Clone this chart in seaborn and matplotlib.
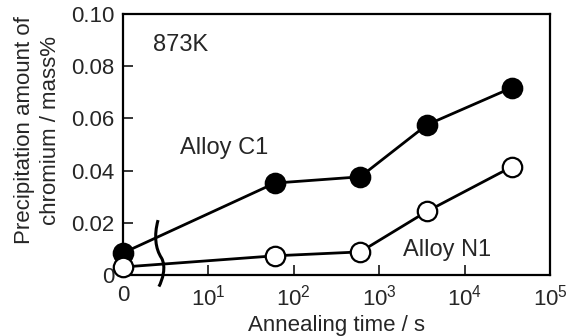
import numpy as np
import pandas as pd
import matplotlib
matplotlib.use("Agg")
import matplotlib.pyplot as plt
from matplotlib.path import Path
from matplotlib.patches import PathPatch
import seaborn as sns

# Data
times_s = [0, 60, 600, 3600, 36000]
alloy_c1 = [0.0084, 0.0352, 0.0376, 0.0575, 0.0718]
alloy_n1 = [0.0030, 0.0073, 0.0088, 0.0243, 0.0415]
x_tick_labels = ["0", r"$\mathregular{10^{1}}$", r"$\mathregular{10^{2}}$",
                 r"$\mathregular{10^{3}}$", r"$\mathregular{10^{4}}$", r"$\mathregular{10^{5}}$"]
y_ticks = [0, 0.02, 0.04, 0.06, 0.08, 0.10]
y_tick_labels = ["0", "0.02", "0.04", "0.06", "0.08", "0.10"]

sns.set_style("ticks")
plt.rcParams['font.family'] = ['Liberation Sans', 'DejaVu Sans']
plt.rcParams['mathtext.fontset'] = 'custom'
plt.rcParams['mathtext.rm'] = 'Liberation Sans'

def pos(t):
    return 0.0 if t == 0 else np.log10(t)

df = pd.DataFrame({
    "pos": [pos(t) for t in times_s] * 2,
    "val": alloy_c1 + alloy_n1,
    "alloy": ["C1"] * len(times_s) + ["N1"] * len(times_s),
})

fig = plt.figure(figsize=(5.67, 3.36), dpi=100)
ax = fig.add_axes([0.217, 0.182, 0.753, 0.776])

for name, face in [("C1", "black"), ("N1", "white")]:
    sub = df[df.alloy == name]
    sns.lineplot(data=sub, x="pos", y="val", ax=ax, color="black", linewidth=2.0,
                 marker="o", markersize=14, markerfacecolor=face,
                 markeredgecolor="black", markeredgewidth=1.6, clip_on=False, zorder=3)

ax.set_xlim(0, 5)
ax.set_ylim(0, 0.10)
ax.set_xticks(range(6))
ax.set_xticklabels(x_tick_labels, fontsize=16)
ax.set_yticks(y_ticks)
ax.set_yticklabels(y_tick_labels, fontsize=16)
ax.tick_params(direction="in", length=7, width=1.3)
ax.tick_params(axis="y", pad=6)
ax.tick_params(axis="x", pad=7)
for s in ax.spines.values():
    s.set_linewidth(1.6)
    s.set_color("black")

ax.set_xlabel("Annealing time / s", fontsize=16, labelpad=3)
ax.set_ylabel("Precipitation amount of\nchromium / mass%", fontsize=16, linespacing=1.3,
              ha="center", va="center")
ax.yaxis.set_label_coords(-0.2, 0.555)

ax.text(0.35, 0.088, "873K", fontsize=17, ha="left", va="center")
ax.text(1.18, 0.0485, "Alloy C1", fontsize=17, ha="center", va="center")
ax.text(3.8, 0.0095, "Alloy N1", fontsize=17, ha="center", va="center")

# axis break mark
verts = [(0.41, 0.021), (0.36, 0.015), (0.38, 0.010), (0.45, 0.0065),
         (0.51, 0.003), (0.46, -0.002), (0.42, -0.0045)]
codes = [Path.MOVETO, Path.CURVE4, Path.CURVE4, Path.CURVE4, Path.CURVE4, Path.CURVE4, Path.CURVE4]
ax.add_patch(PathPatch(Path(verts, codes), facecolor="none", edgecolor="black",
                       linewidth=2.2, clip_on=False, zorder=4))

fig.savefig("out.png", dpi=100)
